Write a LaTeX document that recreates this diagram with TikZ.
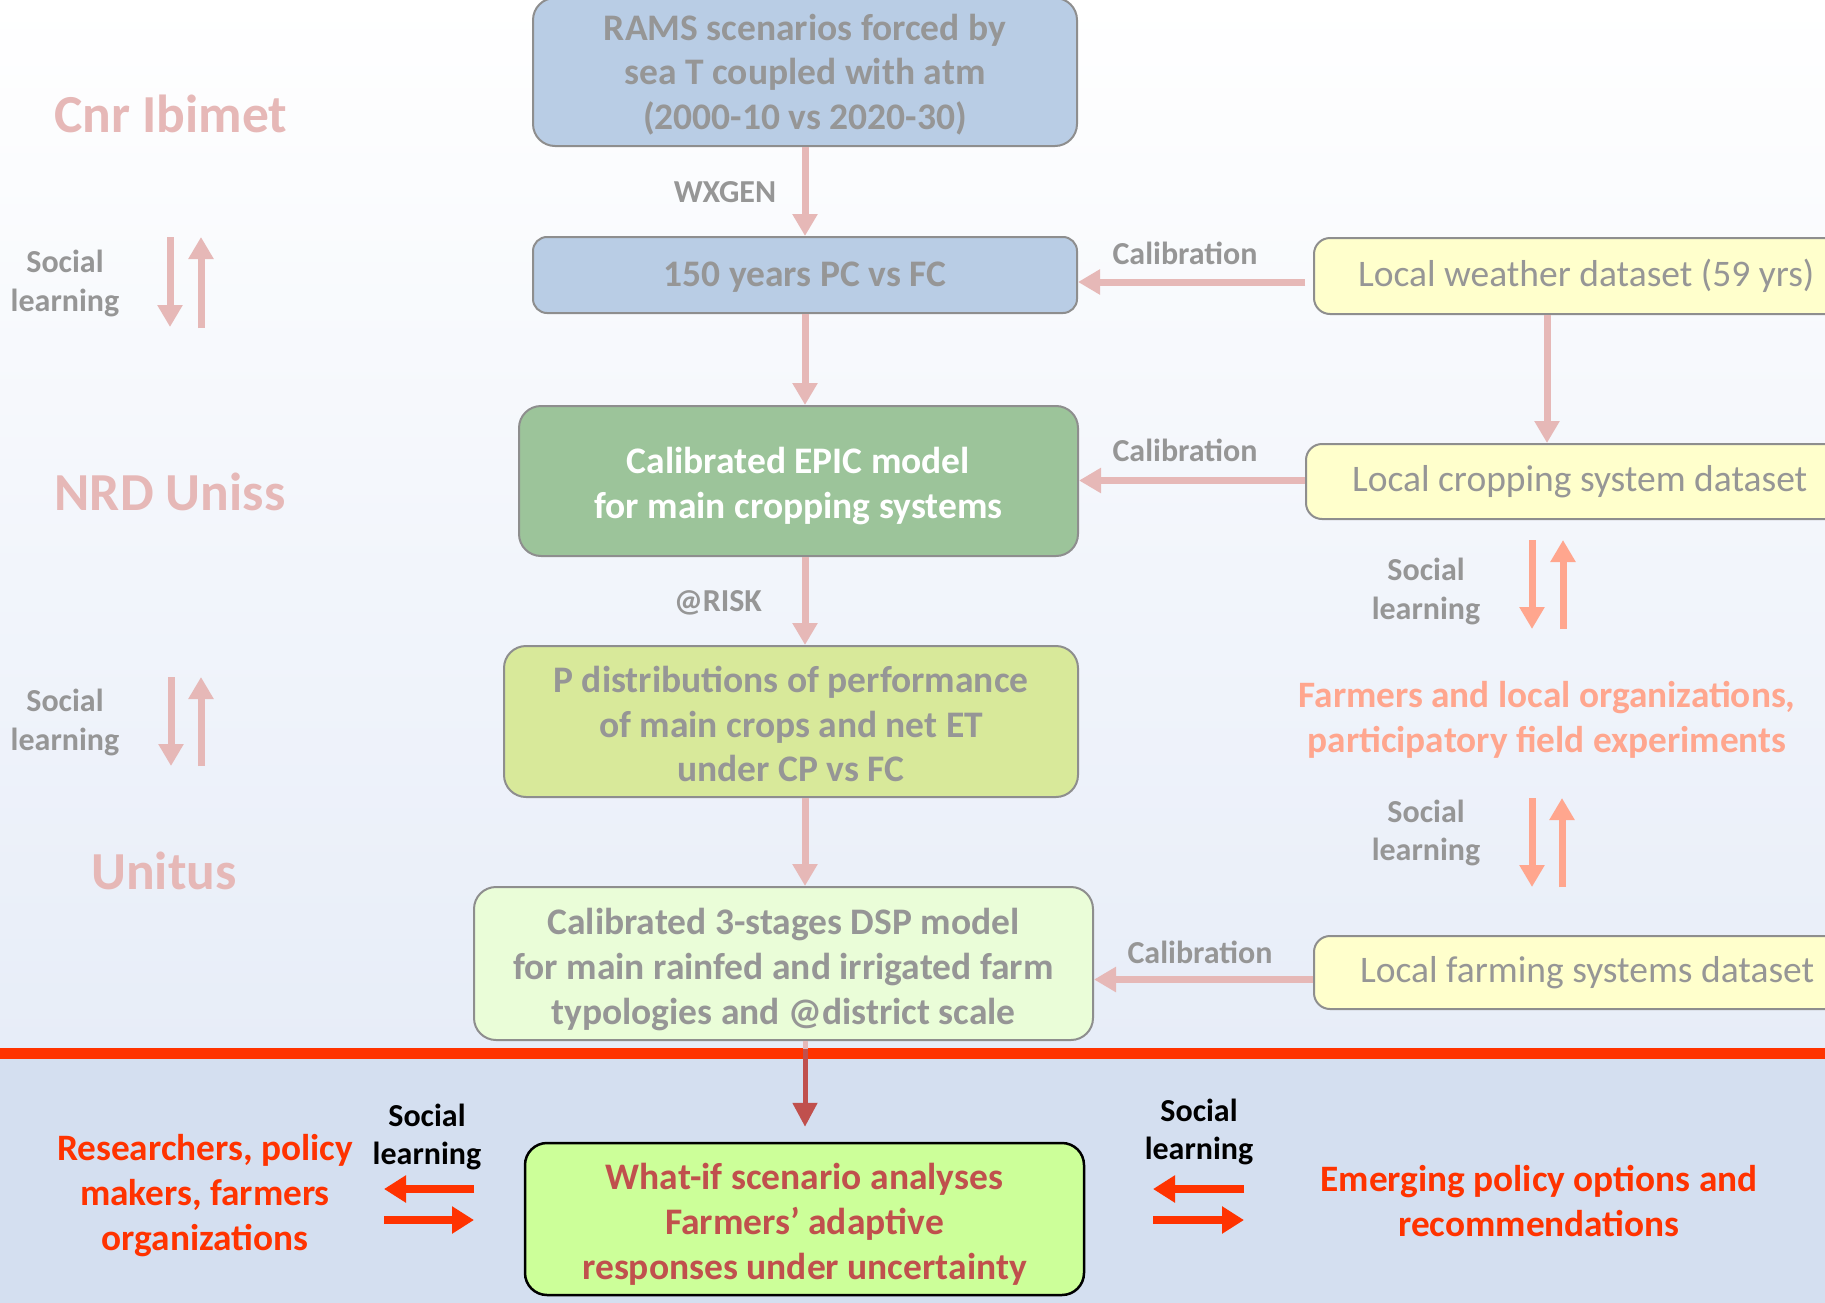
\documentclass[tikz,border=0pt]{standalone}
\usepackage{fontspec}
\setmainfont{Carlito}
\usetikzlibrary{arrows.meta,calc}
\definecolor{bgtop}{HTML}{FFFFFF}
\definecolor{bgmid}{HTML}{E7EDF8}
\definecolor{bgbot}{HTML}{D4DFF0}
\definecolor{redline}{HTML}{FF3300}
\definecolor{txtgray}{HTML}{969696}
\definecolor{boxborder}{HTML}{8E8E8E}
\definecolor{pinkarr}{HTML}{E6B8B7}
\definecolor{salmon}{HTML}{FFA68E}
\definecolor{bluebox}{HTML}{B9CDE5}
\definecolor{greenbox}{HTML}{9CC49A}
\definecolor{limebox}{HTML}{D8E99A}
\definecolor{palebox}{HTML}{EAFDD8}
\definecolor{yellowbox}{HTML}{FFFFCC}
\definecolor{whatif}{HTML}{CCFF99}
\definecolor{darkred}{HTML}{C0504D}
\tikzset{
  flowbox/.style={draw=boxborder, line width=2pt, rounded corners=22pt, inner sep=0pt},
  boxtext/.style={align=center, text=txtgray, font=\fontsize{37.5}{44.8}\selectfont\bfseries, inner sep=0pt},
  databox/.style={draw=boxborder, line width=2pt, rounded corners=16pt, fill=yellowbox,
    text=txtgray, font=\fontsize{37.5}{45}\selectfont, anchor=west, align=left, inner ysep=0pt,
    execute at begin node={\spaceskip=8.5pt\relax}},
  smalllbl/.style={text=txtgray, font=\fontsize{32}{38.4}\selectfont\bfseries, align=center, inner sep=0pt},
  biglbl/.style={text=pinkarr, font=\fontsize{53.5}{60}\selectfont\bfseries, inner sep=0pt},
  pa/.style={draw=pinkarr, line width=7pt, -{Triangle[width=24pt,length=22pt]}},
  sa/.style={draw=salmon, line width=7pt, -{Triangle[width=24pt,length=22pt]}},
  ra/.style={draw=redline, line width=8pt, -{Triangle[width=26pt,length=22pt]}},
  redtxt/.style={text=redline, font=\fontsize{37.3}{44.8}\selectfont\bfseries, align=center, inner sep=0pt},
  blacklbl/.style={text=black, font=\fontsize{32}{38.4}\selectfont\bfseries, align=center, inner sep=0pt},
}
\begin{document}
\begin{tikzpicture}[x=1pt,y=-1pt]
\useasboundingbox (0,0) rectangle (1825,1303);
\clip (0,0) rectangle (1825,1303);
% background
\shade[top color=bgtop, bottom color=bgmid] (0,0) rectangle (1825,1048);
\fill[bgbot] (0,1059) rectangle (1825,1303);
\fill[redline] (0,1048) rectangle (1825,1059);

% central boxes
\node[flowbox, fill=bluebox, minimum width=544pt, minimum height=148pt] (rams) at (805,72) {};
\node[boxtext] (ramsT) at ([yshift=-2.5pt]rams.center)
  {RAMS scenarios forced by\\sea T coupled with atm\\(2000-10 vs 2020-30)};
\node[flowbox, fill=bluebox, minimum width=544pt, minimum height=76pt, rounded corners=14pt] (pcfc) at (805,275) {};
\node[boxtext] (pcfcT) at ([yshift=-2.5pt]pcfc.center) {150 years PC vs FC};
\node[flowbox, fill=greenbox, minimum width=559pt, minimum height=150pt] (epic) at (798.5,481) {};
\node[boxtext, text=white] (epicT) at ([yshift=-5pt]epic.center)
  {Calibrated EPIC model\\for main cropping systems};
\node[flowbox, fill=limebox, minimum width=574pt, minimum height=151pt] (pdist) at (791,721.5) {};
\node[boxtext] (pdistT) at ([yshift=-2.5pt]pdist.center)
  {P distributions of performance\\of main crops and net ET\\under CP vs FC};
\node[flowbox, fill=palebox, minimum width=619pt, minimum height=153pt] (dsp) at (783.5,963.5) {};
\node[boxtext] (dspT) at ([yshift=-6pt]dsp.center)
  {Calibrated 3-stages DSP model\\for main rainfed and irrigated farm\\typologies and @district scale};
\node[flowbox, fill=whatif, draw=black, line width=2.5pt, minimum width=559pt, minimum height=152pt] (whatif) at (804.5,1219) {};
\node[boxtext, text=darkred] (whatifT) at ([yshift=-5.5pt]whatif.center)
  {What-if scenario analyses\\Farmers’ adaptive\\responses under uncertainty};

% right data boxes
\node[databox, text width=560pt, inner xsep=44pt, minimum height=76pt] (weather) at (1313,276)
  {Local weather dataset (59 yrs)};
\node[databox, text width=560pt, inner xsep=46pt, minimum height=75pt] (crop) at (1305,481.5)
  {Local cropping system dataset};
\node[databox, text width=560pt, inner xsep=46pt, minimum height=73pt] (farm) at (1313,972.5)
  {Local farming systems dataset};

% vertical flow arrows
\draw[pa] (rams.south) -- (pcfc.north);
\draw[pa] (pcfc.south) -- (pcfc.south |- epic.north);
\draw[pa] (pcfc.south |- epic.south) -- (pcfc.south |- pdist.north);
\draw[pa] (pcfc.south |- pdist.south) -- (pcfc.south |- dsp.north);
\draw[draw=darkred, line width=5pt, -{Triangle[width=24pt,length=24pt]}]
  (pcfc.south |- dsp.south) -- ([yshift=15pt]pcfc.south |- whatif.north);
\draw[draw=pinkarr, line width=5pt] (pcfc.south |- dsp.south) -- ++(0,8);

% flow labels
\node[smalllbl] (wx) at (725,192) {WXGEN};
\node[smalllbl] (risk) at (718,603) {@RISK};

% calibration arrows
\draw[pa] ([xshift=-8pt,yshift=-6pt]weather.west) -- ([yshift=-7pt]pcfc.east);
\node[smalllbl] (cal1) at (1185,253) {Calibration};
\draw[pa] ([yshift=1pt]crop.west) -- ([yshift=1pt]epic.east |- crop.west);
\node[smalllbl] (cal2) at (1185,450) {Calibration};
\draw[pa] ([yshift=-7pt]farm.west) -- ([yshift=-7pt]dsp.east |- farm.west);
\node[smalllbl] (cal3) at (1200,952) {Calibration};
\draw[pa] ([xshift=234pt]weather.south west) -- ([xshift=242pt]crop.north west);

% left institution labels
\node[biglbl] (cnr) at (171,114) {Cnr Ibimet};
\node[biglbl] (nrd) at (170,492) {NRD Uniss};
\node[biglbl] (unitus) at (164,871) {Unitus};

% left social learning
\node[smalllbl] (sl1) at (65,283.5) {Social\\learning};
\coordinate (l1a) at (170,237); \coordinate (l1b) at (170,327);
\coordinate (l1c) at (201,328); \coordinate (l1d) at (201,237);
\draw[pa] (l1a) -- (l1b);
\draw[pa] (l1c) -- (l1d);
\node[smalllbl] (sl2) at (65,722.5) {Social\\learning};
\coordinate (l2a) at (171,677); \coordinate (l2b) at (171,766);
\coordinate (l2c) at (201,766); \coordinate (l2d) at (201,677);
\draw[pa] (l2a) -- (l2b);
\draw[pa] (l2c) -- (l2d);

% right social learning
\node[smalllbl] (sl3) at (1426,591.5) {Social\\learning};
\coordinate (r1a) at (1532,540); \coordinate (r1b) at (1532,629);
\coordinate (r1c) at (1563,629); \coordinate (r1d) at (1563,540);
\draw[sa] (r1a) -- (r1b);
\draw[sa] (r1c) -- (r1d);
\node[text=salmon, font=\fontsize{37.3}{45.3}\selectfont\bfseries, align=center, inner sep=0pt] (farmers) at (1547,719.5)
  {Farmers and local organizations,\\participatory field experiments};
\node[smalllbl] (sl4) at (1426,833) {Social\\learning};
\coordinate (r2a) at (1532,798); \coordinate (r2b) at (1532,887);
\coordinate (r2c) at (1562,887); \coordinate (r2d) at (1562,798);
\draw[sa] (r2a) -- (r2b);
\draw[sa] (r2c) -- (r2d);

% bottom part
\node[redtxt] (research) at (205,1195.5) {Researchers, policy\\makers, farmers\\organizations};
\node[blacklbl] (sl5) at (427,1137) {Social\\learning};
\coordinate (b1a) at (474,1189); \coordinate (b1b) at (384,1189);
\coordinate (b1c) at (384,1220); \coordinate (b1d) at (474,1220);
\draw[ra] (b1a) -- (b1b);
\draw[ra] (b1c) -- (b1d);
\node[blacklbl] (sl6) at (1199,1132) {Social\\learning};
\coordinate (b2a) at (1244,1189); \coordinate (b2b) at (1153,1189);
\coordinate (b2c) at (1153,1220); \coordinate (b2d) at (1244,1220);
\draw[ra] (b2a) -- (b2b);
\draw[ra] (b2c) -- (b2d);
\node[redtxt] (emerging) at (1539,1201) {Emerging policy options and\\recommendations};
\end{tikzpicture}
\end{document}
